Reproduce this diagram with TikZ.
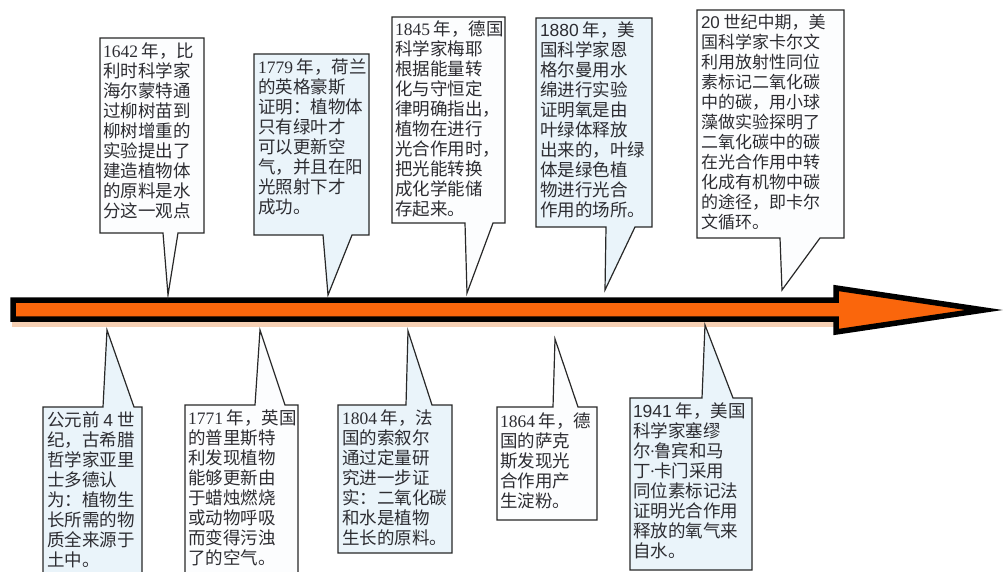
\documentclass[tikz,border=0pt]{standalone}
\usepackage{fontspec}
\setmainfont{Liberation Serif}
\setsansfont{Liberation Sans}
\newfontfamily\cjk{Noto Sans CJK SC}
\usetikzlibrary{calc}
\definecolor{arroworange}{RGB}{250,102,12}
\definecolor{shadowpeach}{RGB}{246,208,180}
\definecolor{boxblue}{RGB}{234,244,250}
\definecolor{boxwhite}{RGB}{252,253,254}
\definecolor{linegray}{RGB}{40,40,40}
\definecolor{txtgray}{RGB}{45,45,50}
\begin{document}
\begin{tikzpicture}[x=1pt,y=-1pt,
  boxnode/.style={anchor=north west, inner sep=0pt, outer sep=0pt, draw=none},
  callout/.style={draw=linegray, line width=1.2pt, line join=miter},
  txt/.style={anchor=north west, inner sep=0pt, outer sep=0pt, align=left, text=txtgray,
    font=\cjk\fontsize{17.5}{20}\selectfont},
  txtsmall/.style={txt, font=\cjk\fontsize{17}{20}\selectfont}]
\useasboundingbox (0,0) rectangle (1004,572);
\fill[white] (0,0) rectangle (1004,572);

% ---- timeline arrow ----
\fill[shadowpeach] (12,320) rectangle (834,327);
\draw[line width=5.5pt, draw=black, fill=arroworange, line join=miter, miter limit=12]
  (13,300) -- (836,300) -- (836,288) -- (984,310) -- (836,332) -- (836,319) -- (13,319) -- cycle;

% ---- top callouts ----
% b1
\node[boxnode, minimum width=104pt, minimum height=195pt] (b1) at (100,38) {};
\coordinate (tip1) at (168,295);
\draw[callout, fill=boxwhite] (b1.north west) -- (b1.north east) -- (b1.south east) -- (178,233) -- (tip1) -- (163,233) -- (b1.south west) -- cycle;
\node[txt] (t1) at ([shift={(3,5)}]b1.north west) {{\rmfamily 1642} 年，比\\利时科学家\\海尔蒙特通\\过柳树苗到\\柳树增重的\\实验提出了\\建造植物体\\的原料是水\\分这一观点};

% b2
\node[boxnode, minimum width=115pt, minimum height=181pt] (b2) at (254,54) {};
\coordinate (tip2) at (328,295);
\draw[callout, fill=boxblue] (b2.north west) -- (b2.north east) -- (b2.south east) -- (352,235) -- (tip2) -- (323,235) -- (b2.south west) -- cycle;
\node[txt] (t2) at ([shift={(4,5)}]b2.north west) {{\rmfamily 1779} 年，荷兰\\的英格豪斯\\证明：植物体\\只有绿叶才\\可以更新空\\气，并且在阳\\光照射下才\\成功。};

% b3
\node[boxnode, minimum width=113pt, minimum height=206pt] (b3) at (392,17) {};
\coordinate (tip3) at (467,293);
\draw[callout, fill=boxwhite] (b3.north west) -- (b3.north east) -- (b3.south east) -- (493,223) -- (tip3) -- (465,223) -- (b3.south west) -- cycle;
\node[txt] (t3) at ([shift={(3,4)}]b3.north west) {{\rmfamily 1845} 年，德国\\科学家梅耶\\根据能量转\\化与守恒定\\律明确指出，\\植物在进行\\光合作用时，\\把光能转换\\成化学能储\\存起来。};

% b4
\node[boxnode, minimum width=116pt, minimum height=209pt] (b4) at (536,18) {};
\coordinate (tip4) at (605,290);
\draw[callout, fill=boxblue] (b4.north west) -- (b4.north east) -- (b4.south east) -- (635,227) -- (tip4) -- (606,227) -- (b4.south west) -- cycle;
\node[txt] (t4) at ([shift={(4,4)}]b4.north west) {{\sffamily 1880} 年，美\\国科学家恩\\格尔曼用水\\绵进行实验\\证明氧是由\\叶绿体释放\\出来的，叶绿\\体是绿色植\\物进行光合\\作用的场所。};

% b5
\node[boxnode, minimum width=147pt, minimum height=228pt] (b5) at (697,10) {};
\coordinate (tip5) at (782,290);
\draw[callout, fill=boxwhite] (b5.north west) -- (b5.north east) -- (b5.south east) -- (820,238) -- (tip5) -- (780,238) -- (b5.south west) -- cycle;
\node[txtsmall] (t5) at ([shift={(4,4)}]b5.north west) {{\sffamily 20} 世纪中期，美\\国科学家卡尔文\\利用放射性同位\\素标记二氧化碳\\中的碳，用小球\\藻做实验探明了\\二氧化碳中的碳\\在光合作用中转\\化成有机物中碳\\的途径，即卡尔\\文循环。};

% ---- bottom callouts ----
% b6
\node[boxnode, minimum width=99pt, minimum height=175pt] (b6) at (43,407) {};
\coordinate (tip6) at (107,330);
\draw[callout, fill=boxblue] (b6.north west) -- (103,407) -- (tip6) -- (134,407) -- (b6.north east) -- (b6.south east) -- (b6.south west) -- cycle;
\node[txt] (t6) at ([shift={(4,5)}]b6.north west) {公元前 {\sffamily 4} 世\\纪，古希腊\\哲学家亚里\\士多德认\\为：植物生\\长所需的物\\质全来源于\\土中。};

% b7
\node[boxnode, minimum width=113pt, minimum height=175pt] (b7) at (185,405) {};
\coordinate (tip7) at (260,330);
\draw[callout, fill=boxwhite] (b7.north west) -- (255,405) -- (tip7) -- (285,405) -- (b7.north east) -- (b7.south east) -- (b7.south west) -- cycle;
\node[txt] (t7) at ([shift={(3,5)}]b7.north west) {{\rmfamily 1771} 年，英国\\的普里斯特\\利发现植物\\能够更新由\\于蜡烛燃烧\\或动物呼吸\\而变得污浊\\了的空气。};

% b8
\node[boxnode, minimum width=114pt, minimum height=148pt] (b8) at (338,405) {};
\coordinate (tip8) at (408,331);
\draw[callout, fill=boxblue] (b8.north west) -- (406,405) -- (tip8) -- (432,405) -- (b8.north east) -- (b8.south east) -- (b8.south west) -- cycle;
\node[txt] (t8) at ([shift={(4,5)}]b8.north west) {{\rmfamily 1804} 年，法\\国的索叙尔\\通过定量研\\究进一步证\\实：二氧化碳\\和水是植物\\生长的原料。};

% b9
\node[boxnode, minimum width=100pt, minimum height=113pt] (b9) at (497,407) {};
\coordinate (tip9) at (555,339);
\draw[callout, fill=boxwhite] (b9.north west) -- (553,407) -- (tip9) -- (578,407) -- (b9.north east) -- (b9.south east) -- (b9.south west) -- cycle;
\node[txt] (t9) at ([shift={(3,6)}]b9.north west) {{\rmfamily 1864} 年，德\\国的萨克\\斯发现光\\合作用产\\生淀粉。};

% b10
\node[boxnode, minimum width=122pt, minimum height=172pt] (b10) at (630,398) {};
\coordinate (tip10) at (705,325);
\draw[callout, fill=boxblue] (b10.north west) -- (702,398) -- (tip10) -- (733,398) -- (b10.north east) -- (b10.south east) -- (b10.south west) -- cycle;
\node[txt] (t10) at ([shift={(3,5)}]b10.north west) {{\sffamily 1941} 年，美国\\科学家塞缪\\尔{\rmfamily\kern-1pt·\kern-1pt}鲁宾和马\\丁{\rmfamily\kern-1pt·\kern-1pt}卡门采用\\同位素标记法\\证明光合作用\\释放的氧气来\\自水。};
\end{tikzpicture}
\end{document}
